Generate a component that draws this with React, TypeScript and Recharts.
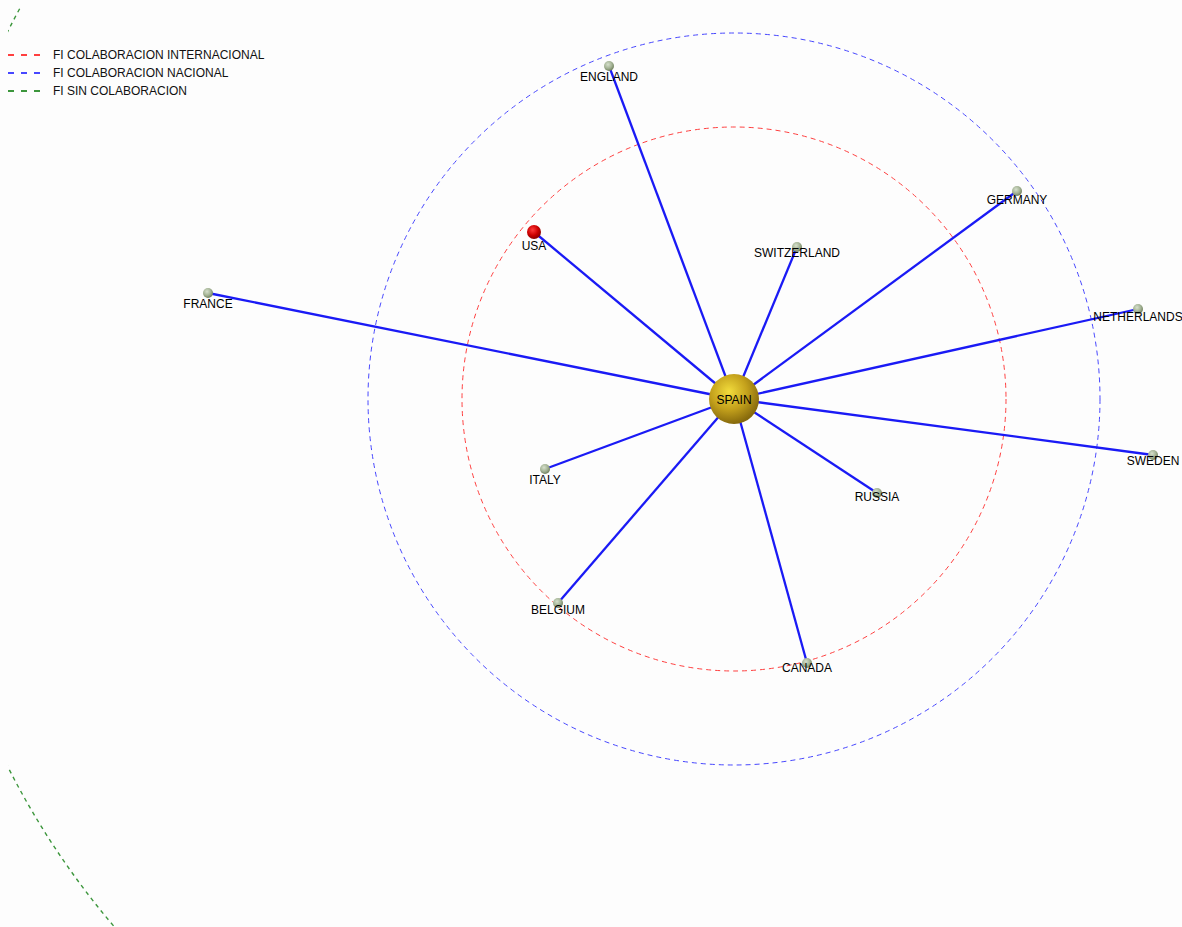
import React from "react";
import { ScatterChart, Scatter, XAxis, YAxis, Legend } from "recharts";

// node positions relative to SPAIN (centre of the graph), y pointing up
const countries = [
  "ENGLAND",
  "GERMANY",
  "USA",
  "SWITZERLAND",
  "FRANCE",
  "NETHERLANDS",
  "SWEDEN",
  "ITALY",
  "RUSSIA",
  "BELGIUM",
  "CANADA",
];
const xs = [-125, 283, -200, 63, -526, 404, 419, -189, 143, -176, 73];
const ys = [333, 208, 167, 152, 106, 90, -56, -70, -94, -204, -264];

const hub = { name: "SPAIN", x: 0, y: 0 };

// concentric reference rings (same units as xs / ys)
const ringNames = [
  "FI SIN COLABORACION",
  "FI COLABORACION NACIONAL",
  "FI COLABORACION INTERNACIONAL",
];
const ringRadii = [814, 366, 272];

const legendNames = [
  "FI COLABORACION INTERNACIONAL",
  "FI COLABORACION NACIONAL",
  "FI SIN COLABORACION",
];

const W = 1182;
const H = 927;
const PAD = 8;
const xDomain = [-726, 448];
const yDomain = [-528, 391];
const pxPerUnit = (W - PAD) / (xDomain[1] - xDomain[0]);

const ringStyle: Record<string, { stroke: string; dash: string; width: number }> = {
  "FI COLABORACION INTERNACIONAL": { stroke: "#ff4040", dash: "5 4", width: 1 },
  "FI COLABORACION NACIONAL": { stroke: "#4747ff", dash: "5 4", width: 1 },
  "FI SIN COLABORACION": { stroke: "#3c963c", dash: "4 4", width: 1.4 },
};

// label centre offset below each node (px)
const labelDy: Record<string, number> = {
  ENGLAND: 11,
  GERMANY: 9,
  USA: 14,
  SWITZERLAND: 6,
  FRANCE: 11,
  NETHERLANDS: 8,
  SWEDEN: 6,
  ITALY: 11,
  RUSSIA: 4,
  BELGIUM: 7,
  CANADA: 5,
};

const nodes = countries.map((name, i) => ({ name, x: xs[i], y: ys[i] }));
const rings = ringNames.map((name, i) => ({ name, x: 0, y: 0, r: ringRadii[i] }));

const FONT = "'Liberation Sans', Arial, sans-serif";

const RingShape = (p: any) => {
  const s = ringStyle[p.payload.name];
  return (
    <circle
      cx={p.cx}
      cy={p.cy}
      r={p.payload.r * pxPerUnit}
      fill="none"
      stroke={s.stroke}
      strokeWidth={s.width}
      strokeDasharray={s.dash}
    />
  );
};

const NodeShape = (p: any) => {
  const name = p.payload.name;
  const isUsa = name === "USA";
  const r = isUsa ? 7 : 5;
  return (
    <g>
      <circle
        cx={p.cx}
        cy={p.cy}
        r={r}
        fill={isUsa ? "url(#gradRed)" : "url(#gradNode)"}
      />
      <text
        x={p.cx}
        y={p.cy + labelDy[name]}
        textAnchor="middle"
        dominantBaseline="central"
        fontFamily={FONT}
        fontSize={12}
        fill="#000"
      >
        {name}
      </text>
    </g>
  );
};

const HubShape = (p: any) => (
  <g>
    <circle cx={p.cx} cy={p.cy} r={25} fill="url(#gradGold)" />
    <text
      x={p.cx}
      y={p.cy + 1}
      textAnchor="middle"
      dominantBaseline="central"
      fontFamily={FONT}
      fontSize={12}
      fill="#000"
    >
      {p.payload.name}
    </text>
  </g>
);

const LegendBox = () => (
  <div style={{ fontFamily: FONT, fontSize: 12, color: "#111" }}>
    {legendNames.map((n) => (
      <div key={n} style={{ display: "flex", alignItems: "center", height: 18 }}>
        <svg width={45} height={18}>
          <line
            x1={0}
            x2={32}
            y1={9}
            y2={9}
            stroke={ringStyle[n].stroke}
            strokeWidth={2}
            strokeDasharray="6 7"
          />
        </svg>
        <span>{n}</span>
      </div>
    ))}
  </div>
);

export default function App() {
  return (
    <div
      style={{
        position: "fixed",
        left: 0,
        top: 0,
        width: W,
        height: H,
        background: "#fdfdfd",
        overflow: "hidden",
      }}
    >
      <ScatterChart width={W} height={H} margin={{ top: PAD, right: 0, bottom: 0, left: PAD }}>
        <defs>
          <radialGradient id="gradGold" cx="40%" cy="35%" r="65%">
            <stop offset="0%" stopColor="#f2dc3c" />
            <stop offset="55%" stopColor="#c4a11c" />
            <stop offset="100%" stopColor="#86690c" />
          </radialGradient>
          <radialGradient id="gradNode" cx="40%" cy="35%" r="65%">
            <stop offset="0%" stopColor="#d6e0cc" />
            <stop offset="60%" stopColor="#a3b294" />
            <stop offset="100%" stopColor="#72825f" />
          </radialGradient>
          <radialGradient id="gradRed" cx="40%" cy="35%" r="65%">
            <stop offset="0%" stopColor="#ff3a3a" />
            <stop offset="60%" stopColor="#cc0000" />
            <stop offset="100%" stopColor="#8a0000" />
          </radialGradient>
        </defs>
        <XAxis type="number" dataKey="x" domain={xDomain} allowDataOverflow hide />
        <YAxis type="number" dataKey="y" domain={yDomain} allowDataOverflow hide />
        <Legend
          layout="vertical"
          align="center"
          verticalAlign="middle"
          content={() => <LegendBox />}
          wrapperStyle={{ left: 8, top: 46, width: 300, height: 60 }}
        />
        <Scatter data={rings} shape={RingShape} isAnimationActive={false} legendType="none" />
        {nodes.map((n) => (
          <Scatter
            key={"edge-" + n.name}
            data={[hub, n]}
            line={{ stroke: "#1a1af5", strokeWidth: 2.3 }}
            shape={() => <g />}
            isAnimationActive={false}
            legendType="none"
          />
        ))}
        <Scatter data={nodes} shape={NodeShape} isAnimationActive={false} legendType="none" />
        <Scatter data={[hub]} shape={HubShape} isAnimationActive={false} legendType="none" />
      </ScatterChart>
    </div>
  );
}
